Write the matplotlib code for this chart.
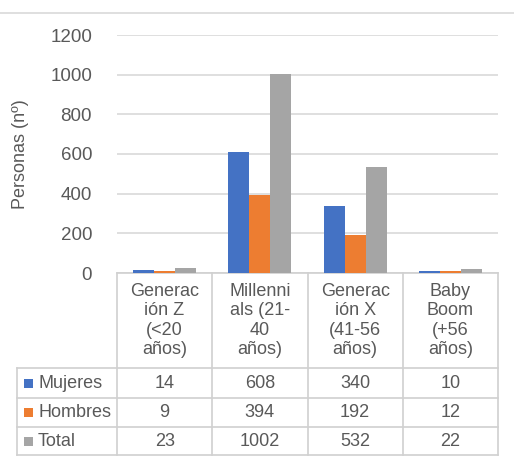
import matplotlib
matplotlib.use("Agg")
import matplotlib.pyplot as plt
from matplotlib.lines import Line2D
from matplotlib.patches import Rectangle
import matplotlib.transforms as mtransforms

plt.rcParams['font.family'] = ['Liberation Sans', 'DejaVu Sans']

categories = ["Generac\nión Z\n(<20\naños)", "Millenni\nals (21-\n40\naños)",
              "Generac\nión X\n(41-56\naños)", "Baby\nBoom\n(+56\naños)"]
series_names = ["Mujeres", "Hombres", "Total"]
mujeres = [14, 608, 340, 10]
hombres = [9, 394, 192, 12]
total = [23, 1002, 532, 22]
series = [mujeres, hombres, total]
colors = ["#4472C4", "#ED7D31", "#A5A5A5"]

text_color = "#595959"
grid_color = "#D9D9D9"
fs = 13

W, H = 514, 457
fig = plt.figure(figsize=(W / 100, H / 100), dpi=100)
left, right, top, bottom = 117, 498, 35, 273
ax = fig.add_axes([left / W, 1 - bottom / H, (right - left) / W, (bottom - top) / H])

# clustered bars
bw = 0.22
for i, (vals, col) in enumerate(zip(series, colors)):
    xs = [k + (i - 1) * bw for k in range(len(vals))]
    ax.bar(xs, vals, width=bw, color=col, zorder=3)

ax.set_xlim(-0.5, len(categories) - 0.5)
ax.set_ylim(0, 1200)
ax.set_yticks(range(0, 1201, 200))
ax.set_xticks([])
ax.tick_params(axis='y', length=0, pad=18, labelsize=13.5, labelcolor=text_color)
ax.grid(axis='y', color=grid_color, linewidth=1.2, zorder=0)
for s in ax.spines.values():
    s.set_visible(False)
ax.set_ylabel("Personas (nº)", fontsize=fs, color=text_color)
ax.yaxis.set_label_coords(-0.232, 0.5)

# data table under the plot: x in data units, y in axes fraction
trans = mtransforms.blended_transform_factory(ax.transData, ax.transAxes)
ph = bottom - top
row_y = [0, -(368 - bottom) / ph, -(398 - bottom) / ph, -(427 - bottom) / ph, -(455 - bottom) / ph]
x_lab = -0.5 - (left - 17) / ((right - left) / len(categories))
x_end = len(categories) - 0.5
line_kw = dict(color="#D0D0D0", linewidth=1.2, transform=trans, clip_on=False)

ax.add_line(Line2D([-0.5, x_end], [row_y[0]] * 2, **line_kw))
for y in row_y[1:]:
    ax.add_line(Line2D([x_lab, x_end], [y, y], **line_kw))
for k in range(len(categories) + 1):
    ax.add_line(Line2D([k - 0.5, k - 0.5], [row_y[0], row_y[-1]], **line_kw))
ax.add_line(Line2D([x_lab, x_lab], [row_y[1], row_y[-1]], **line_kw))

for k, cat in enumerate(categories):
    ax.text(k, (row_y[0] + row_y[1]) / 2, cat, transform=trans, ha='center', va='center',
            fontsize=fs, color=text_color, linespacing=1.2)

sq_w = 9 / ((right - left) / len(categories))
sq_h = 9 / ph
for r, (name, vals, col) in enumerate(zip(series_names, series, colors)):
    yc = (row_y[r + 1] + row_y[r + 2]) / 2
    ax.add_patch(Rectangle((x_lab + 7 / 95.25, yc - sq_h / 2), sq_w, sq_h, facecolor=col,
                           edgecolor='none', transform=trans, clip_on=False))
    ax.text(x_lab + 21 / 95.25, yc, name, transform=trans, ha='left', va='center',
            fontsize=fs, color=text_color)
    for k, v in enumerate(vals):
        ax.text(k, yc, str(v), transform=trans, ha='center', va='center',
                fontsize=fs, color=text_color)

# thin rule along the top of the chart area
fig.add_artist(Line2D([0, 1], [1 - 13 / H] * 2, color=grid_color, linewidth=1.2,
                      transform=fig.transFigure))

fig.savefig("out.png", dpi=100, facecolor="white")
